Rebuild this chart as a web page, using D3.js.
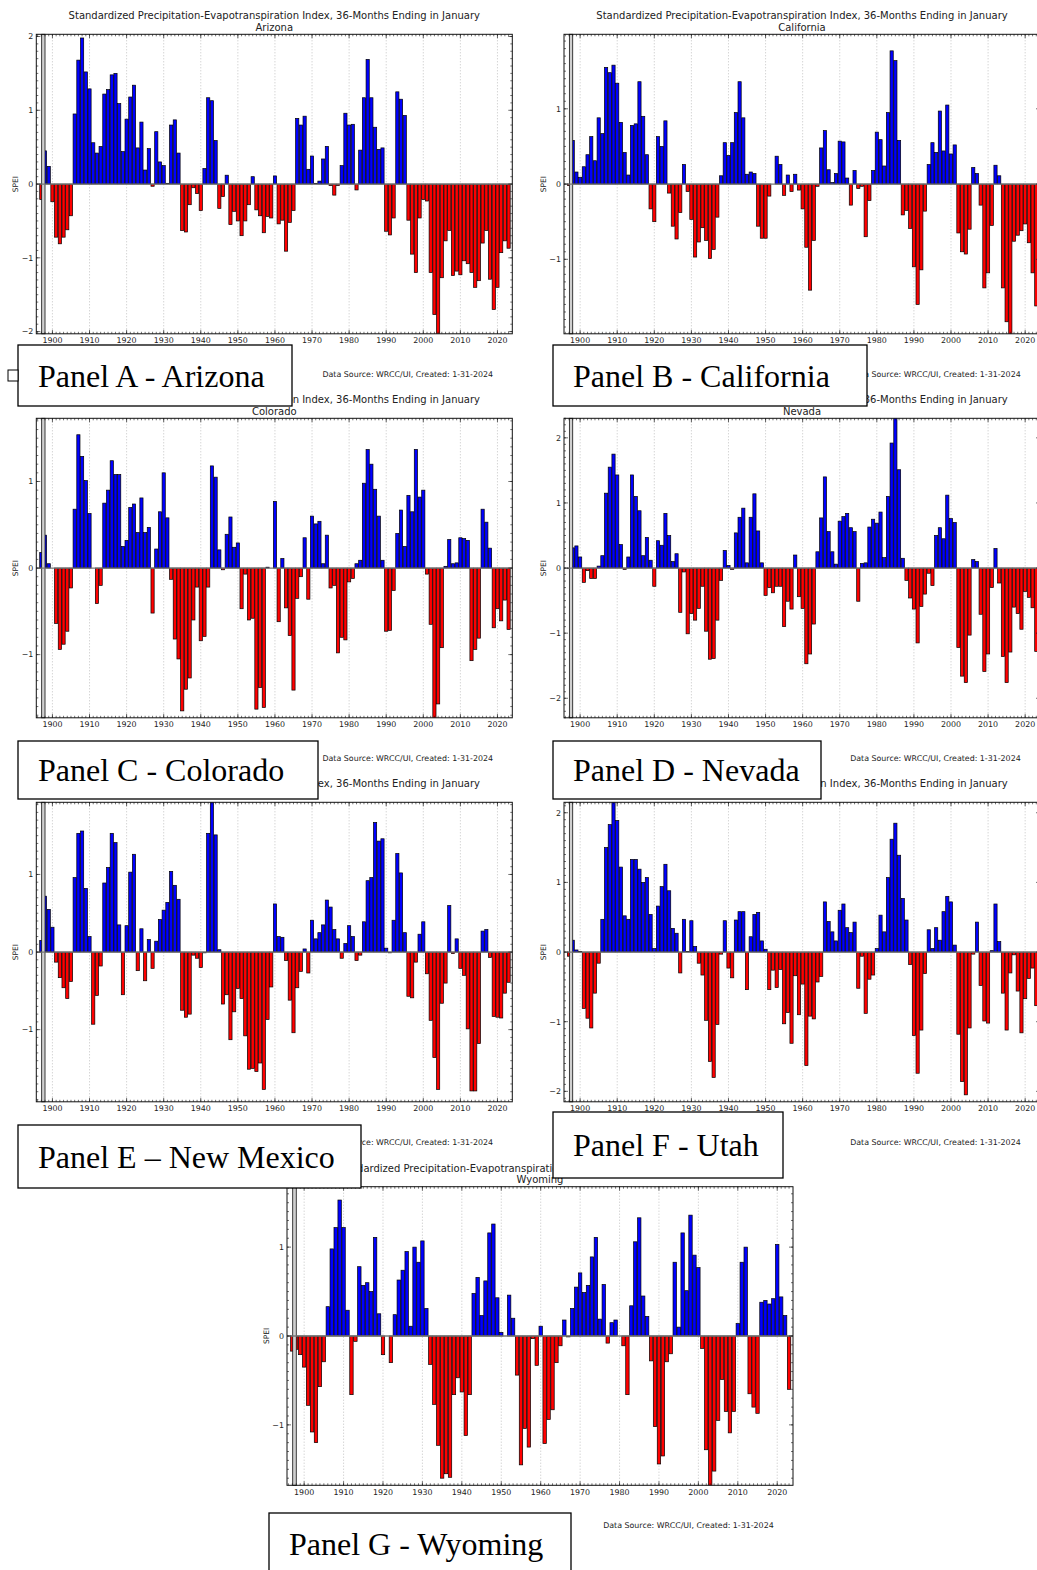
<!DOCTYPE html>
<html>
<head>
<meta charset="utf-8">
<script src="https://cdn.jsdelivr.net/npm/d3@7"></script>
<style>
  body { margin: 0; background: #fff; }
  svg { display: block; }
</style>
</head>
<body>
<svg id="chart" width="1037" height="1570"></svg>
<script>
// SPEI, 36 months ending in January, one value per year 1897..2023
const years = d3.range(1897, 2024);
const xTicks = [1900, 1910, 1920, 1930, 1940, 1950, 1960, 1970, 1980, 1990, 2000, 2010, 2020];

const arizona = [-0.21, 0.45, 0.24,
  -0.24, -0.72, -0.81, -0.72, -0.62, -0.43, 0.95, 1.68, 1.98, 1.52,
  1.29, 0.56, 0.42, 0.51, 1.22, 1.28, 1.48, 1.50, 1.09, 0.44,
  0.88, 1.18, 1.34, 0.49, 0.84, 0.19, 0.48, -0.03, 0.71, 0.30,
  0.25, 0.01, 0.80, 0.87, 0.42, -0.63, -0.65, -0.28, -0.05, -0.13,
  -0.36, 0.21, 1.17, 1.13, 0.59, -0.33, -0.17, 0.12, -0.55, -0.37,
  -0.50, -0.70, -0.50, -0.28, 0.10, -0.35, -0.43, -0.66, -0.44, -0.46,
  0.11, -0.54, -0.49, -0.91, -0.52, -0.36, 0.89, 0.80, 0.92, 0.20,
  0.38, 0.01, 0.04, 0.34, 0.51, -0.02, -0.15, -0.02, 0.25, 0.96,
  0.80, 0.81, -0.08, 0.46, 1.17, 1.69, 1.17, 0.77, 0.47, 0.49,
  -0.64, -0.69, -0.46, 1.25, 1.15, 0.93, -0.49, -0.95, -1.20, -0.46,
  -0.21, -0.23, -1.20, -1.77, -2.10, -1.27, -0.77, -0.63, -1.24, -1.18,
  -1.23, -1.04, -1.08, -1.20, -1.40, -1.31, -0.80, -0.63, -1.29, -1.70,
  -1.40, -0.93, -0.77, -0.87];

const california = [-0.02, 0.58, 0.16,
  0.09, 0.23, 0.39, 0.63, 0.31, 0.88, 0.67, 1.55, 1.48, 1.58,
  1.34, 0.82, 0.42, 0.12, 0.78, 0.80, 1.36, 0.90, 0.39, -0.33,
  -0.50, 0.63, 0.50, 0.84, -0.12, -0.56, -0.73, -0.38, 0.26, -0.10,
  -0.47, -0.97, -0.77, -0.58, -0.75, -0.99, -0.87, -0.44, 0.11, 0.55,
  0.38, 0.55, 0.95, 1.36, 0.88, 0.13, 0.16, 0.14, -0.56, -0.72,
  -0.72, -0.16, 0.00, 0.37, 0.26, -0.15, 0.12, -0.10, 0.13, -0.08,
  -0.33, -0.84, -1.41, -0.75, -0.03, 0.48, 0.71, 0.19, 0.02, 0.14,
  0.57, 0.56, 0.08, -0.28, 0.18, -0.06, -0.03, -0.70, -0.22, 0.18,
  0.69, 0.59, 0.24, 0.95, 1.77, 1.64, 0.58, -0.41, -0.35, -0.59,
  -1.10, -1.60, -1.14, -0.36, 0.26, 0.55, 0.42, 0.97, 0.44, 1.05,
  0.40, 0.52, -0.65, -0.90, -0.93, -0.60, 0.22, 0.14, -0.28, -1.38,
  -1.18, -0.55, 0.25, 0.11, -1.38, -1.83, -2.05, -0.76, -0.68, -0.62,
  -0.53, -0.78, -1.18, -1.62];

const colorado = [0.18, 0.38, 0.05,
  0.00, -0.64, -0.94, -0.88, -0.73, -0.23, 0.68, 1.54, 1.29, 1.01,
  0.63, 0.00, -0.41, -0.20, 0.75, 0.90, 1.24, 1.08, 1.08, 0.25,
  0.32, 0.70, 0.74, 0.41, 0.81, 0.41, 0.47, -0.52, 0.22, 0.65,
  1.10, 0.58, -0.13, -0.82, -1.05, -1.65, -1.40, -1.27, -0.60, -0.22,
  -0.84, -0.79, -0.22, 1.18, 1.05, 0.21, -0.02, 0.39, 0.59, 0.24,
  0.29, -0.47, -0.07, -0.60, -0.58, -1.63, -1.38, -1.61, 0.01, 0.00,
  0.77, -0.62, 0.11, -0.46, -0.78, -1.41, -0.35, -0.10, 0.35, -0.36,
  0.60, 0.51, 0.54, 0.05, 0.38, -0.23, -0.20, -0.98, -0.80, -0.83,
  -0.16, -0.12, 0.05, 0.09, 0.98, 1.37, 1.20, 0.91, 0.60, 0.09,
  -0.73, -0.72, -0.26, 0.40, 0.67, 0.25, 0.84, 0.65, 1.37, 0.82,
  0.90, -0.07, -0.65, -1.76, -1.57, -0.92, 0.02, 0.33, 0.05, 0.06,
  0.35, 0.34, 0.32, -1.07, -0.94, -0.81, 0.68, 0.53, 0.23, -0.69,
  -0.47, -0.61, -0.37, -0.71];

const nevada = [-0.01, 0.31, 0.34,
  0.17, -0.22, -0.04, -0.16, -0.16, 0.03, 0.19, 1.15, 1.55, 1.75,
  1.43, 0.36, -0.02, 0.17, 1.43, 1.10, 0.88, 0.19, 0.47, 0.12,
  -0.28, 0.42, 0.35, 0.84, 0.50, 0.10, 0.22, -0.68, -0.06, -1.01,
  -0.70, -0.80, -0.62, -0.28, -0.97, -1.40, -1.39, -0.80, -0.19, 0.27,
  0.04, -0.02, 0.54, 0.78, 0.92, 0.08, 0.78, 1.14, 0.57, 0.08,
  -0.42, -0.30, -0.38, -0.28, -0.28, -0.90, -0.51, -0.63, 0.20, -0.44,
  -0.62, -1.47, -1.32, -0.86, 0.25, 0.77, 1.40, 0.56, 0.25, 0.06,
  0.72, 0.79, 0.84, 0.62, 0.56, -0.51, 0.07, 0.08, 0.63, 0.75,
  0.69, 0.86, 0.16, 1.10, 1.92, 2.35, 1.51, 0.15, -0.19, -0.46,
  -0.63, -1.15, -0.59, -0.40, -0.08, -0.27, 0.50, 0.62, 0.45, 1.12,
  0.76, 0.70, -1.22, -1.66, -1.76, -1.03, 0.13, 0.10, -0.71, -1.59,
  -1.32, -0.30, 0.30, -0.23, -1.36, -1.76, -1.29, -0.60, -0.70, -0.94,
  -0.36, -0.45, -0.61, -1.28];

const newMexico = [0.15, 0.72, 0.55,
  0.32, -0.13, -0.33, -0.46, -0.60, -0.38, 0.96, 1.53, 1.56, 0.82,
  0.20, -0.93, -0.56, -0.18, 0.89, 1.09, 1.53, 1.41, 0.35, -0.55,
  0.34, 1.03, 1.26, -0.24, 0.30, -0.37, 0.16, -0.21, 0.14, 0.42,
  0.54, 0.64, 1.04, 0.86, 0.68, -0.75, -0.84, -0.80, -0.04, -0.08,
  -0.20, -0.01, 1.53, 1.95, 1.51, 0.03, -0.67, -0.55, -1.13, -0.77,
  -0.47, -0.60, -1.08, -1.51, -1.50, -1.54, -1.43, -1.77, -0.87, -0.45,
  0.62, 0.20, 0.19, -0.11, -0.62, -1.04, -0.46, -0.25, 0.04, -0.27,
  0.41, 0.17, 0.25, 0.35, 0.67, 0.58, 0.29, 0.17, -0.08, 0.11,
  0.34, 0.20, -0.11, -0.04, 0.39, 0.92, 0.96, 1.67, 1.43, 1.46,
  0.05, -0.01, 0.41, 1.27, 1.02, 0.25, -0.57, -0.59, -0.13, 0.23,
  0.39, -0.28, -0.88, -1.36, -1.77, -0.66, -0.40, 0.60, -0.02, 0.17,
  -0.21, -0.30, -0.99, -1.79, -1.79, -1.18, 0.27, 0.29, -0.07, -0.83,
  -0.84, -0.85, -0.53, -0.39];

const utah = [-0.06, 0.17, 0.03,
  0.01, -0.81, -0.95, -1.09, -0.59, -0.16, 0.47, 1.50, 1.83, 2.20,
  1.89, 1.22, 0.52, 0.47, 1.33, 1.33, 1.19, 1.00, 1.07, 0.54,
  0.05, 0.66, 0.94, 1.26, 0.88, 0.34, 0.27, -0.30, 0.47, 0.01,
  0.45, 0.08, -0.16, -0.33, -0.98, -1.57, -1.80, -1.04, -0.03, 0.45,
  -0.23, -0.37, 0.46, 0.58, 0.58, -0.54, 0.22, 0.54, 0.57, 0.16,
  0.04, -0.54, -0.26, -0.51, -0.25, -1.03, -0.87, -1.31, -0.34, -0.90,
  -0.46, -1.63, -0.92, -0.96, -0.43, -0.35, 0.72, 0.44, 0.29, 0.16,
  0.60, 0.69, 0.35, 0.28, 0.43, -0.52, -0.06, -0.88, -0.39, -0.33,
  0.05, 0.53, 0.29, 1.07, 1.62, 1.85, 1.39, 0.77, 0.46, -0.18,
  -1.20, -1.74, -1.12, -0.31, 0.32, 0.05, 0.35, 0.17, 0.58, 0.80,
  0.72, 0.10, -1.18, -1.86, -2.05, -1.09, -0.03, 0.43, -0.48, -0.99,
  -1.02, 0.02, 0.69, 0.15, -0.59, -1.12, -0.30, -0.04, -0.56, -1.16,
  -0.67, -0.38, -0.23, -0.77];

const wyoming = [-0.17, -0.15, -0.21,
  -0.35, -0.78, -1.08, -1.20, -0.57, -0.29, 0.33, 0.98, 1.22, 1.53,
  1.22, 0.29, -0.66, -0.06, 0.78, 0.57, 0.60, 0.50, 1.11, 0.25,
  -0.21, 0.00, -0.30, 0.24, 0.63, 0.74, 0.95, 0.11, 1.00, 0.83,
  1.07, 0.31, -0.32, -0.77, -1.23, -1.60, -1.55, -1.59, -0.66, -0.47,
  -0.63, -1.12, -0.66, 0.48, 0.66, 0.23, 0.62, 1.16, 1.26, 0.43,
  0.04, 0.00, 0.46, 0.20, -0.44, -1.45, -1.04, -1.25, -0.03, -0.33,
  0.11, -1.21, -0.94, -0.83, -0.30, -0.11, 0.18, -0.01, 0.31, 0.55,
  0.71, 0.49, 0.57, 0.89, 1.11, 0.19, 0.58, -0.08, 0.15, 0.18,
  0.00, -0.11, -0.66, 0.34, 1.06, 1.33, 0.45, 0.22, -0.28, -1.02,
  -1.44, -1.35, -0.29, -0.20, 0.83, 0.10, 1.16, 0.51, 1.36, 0.91,
  0.77, -0.14, -1.28, -1.70, -1.52, -0.95, -0.49, -0.85, -1.09, -0.85,
  0.14, 0.83, 1.00, -0.65, -0.80, -0.87, 0.38, 0.40, 0.36, 0.42,
  1.03, 0.44, 0.23, -0.60];

const titleText = "Standardized Precipitation-Evapotranspiration Index, 36-Months Ending in January";
const sourceText = "Data Source: WRCC/UI, Created: 1-31-2024";

// where each pasted chart sits on the page
const panels = [
  { id: "A", name: "Arizona",    values: arizona,    left: 36.3, top: 34.3,   w: 476, h: 299.5, ylim: 2.03 },
  { id: "B", name: "California", values: california, left: 564,  top: 34.3,   w: 476, h: 299.5, ylim: 1.99 },
  { id: "C", name: "Colorado",   values: colorado,   left: 36.3, top: 418.3,  w: 476, h: 299.5, ylim: 1.73 },
  { id: "D", name: "Nevada",     values: nevada,     left: 564,  top: 418.3,  w: 476, h: 299.5, ylim: 2.30 },
  { id: "E", name: "New Mexico", values: newMexico,  left: 36.3, top: 802.3,  w: 476, h: 299.5, ylim: 1.93 },
  { id: "F", name: "Utah",       values: utah,       left: 564,  top: 802.3,  w: 476, h: 299.5, ylim: 2.15 },
  { id: "G", name: "Wyoming",    values: wyoming,    left: 287,  top: 1186.7, w: 506, h: 298.6, ylim: 1.68 }
];

const labels = [
  { text: "Panel A - Arizona",    x: 18,  y: 345,  w: 274, h: 61 },
  { text: "Panel B - California", x: 553, y: 345,  w: 314, h: 61 },
  { text: "Panel C - Colorado",   x: 18,  y: 741,  w: 300, h: 58 },
  { text: "Panel D - Nevada",     x: 553, y: 741,  w: 268, h: 58 },
  { text: "Panel E \u2013 New Mexico", x: 18, y: 1125, w: 343, h: 63 },
  { text: "Panel F - Utah",       x: 553, y: 1112, w: 230, h: 66 },
  { text: "Panel G - Wyoming",    x: 269, y: 1513, w: 302, h: 62 }
];

const svg = d3.select("#chart");
const font = "DejaVu Sans";
const xDomain = [1895.65, 2024];
const barW = 0.86;
const smallFont = 7.9;
const fmt = v => (v < 0 ? "\u2212" : "") + Math.abs(v);

panels.forEach(drawPanel);

function drawPanel(p) {
  const g = svg.append("g");
  const x = d3.scaleLinear().domain(xDomain).range([p.left, p.left + p.w]);
  const y = d3.scaleLinear().domain([-p.ylim, p.ylim]).range([p.top + p.h, p.top]);
  const bottom = p.top + p.h, right = p.left + p.w;

  svg.append("clipPath").attr("id", "clip" + p.id)
    .append("rect").attr("x", p.left).attr("y", p.top).attr("width", p.w).attr("height", p.h);

  // title
  g.append("text").attr("x", (p.left + right) / 2).attr("y", p.top - 15)
    .attr("text-anchor", "middle").attr("font-family", font).attr("font-size", 10)
    .attr("fill", "#222").text(titleText);
  g.append("text").attr("x", (p.left + right) / 2).attr("y", p.top - 3.5)
    .attr("text-anchor", "middle").attr("font-family", font).attr("font-size", 10)
    .attr("fill", "#222").text(p.name);

  // vertical dotted grid
  g.append("g").selectAll("line").data(xTicks).join("line")
    .attr("x1", d => x(d)).attr("x2", d => x(d))
    .attr("y1", p.top).attr("y2", bottom)
    .attr("stroke", "#aaa").attr("stroke-width", 0.7).attr("stroke-dasharray", "1,2");

  // bars
  const rows = years.map((yr, i) => ({ yr, v: p.values[i] }));
  g.append("g").attr("clip-path", `url(#clip${p.id})`)
    .selectAll("rect").data(rows).join("rect")
    .attr("x", d => x(d.yr - barW / 2))
    .attr("width", d => x(d.yr + barW / 2) - x(d.yr - barW / 2))
    .attr("y", d => y(Math.max(0, d.v)))
    .attr("height", d => Math.abs(y(d.v) - y(0)))
    .attr("fill", d => d.v >= 0 ? "#0000ff" : "#ff0000")
    .attr("stroke", "#000").attr("stroke-width", 0.7);

  // the grey full-height marker near the start of the record
  g.append("rect")
    .attr("x", x(1897.1)).attr("width", x(1898.0) - x(1897.1))
    .attr("y", p.top).attr("height", p.h)
    .attr("fill", "#cfcfcf").attr("stroke", "#111").attr("stroke-width", 0.8);

  // zero line
  g.append("line").attr("x1", p.left).attr("x2", right)
    .attr("y1", y(0)).attr("y2", y(0))
    .attr("stroke", "#777").attr("stroke-width", 1.3);

  // frame
  g.append("rect").attr("x", p.left).attr("y", p.top).attr("width", p.w).attr("height", p.h)
    .attr("fill", "none").attr("stroke", "#111").attr("stroke-width", 1);

  // ticks (inward, all four sides)
  const tk = g.append("g").attr("stroke", "#111").attr("stroke-width", 0.6);
  const minorX = d3.range(1896, 2024);
  const yTicks = d3.range(Math.ceil(-p.ylim), Math.floor(p.ylim) + 1);
  const minorY = d3.range(Math.ceil(-p.ylim * 10), Math.floor(p.ylim * 10) + 1).map(d => d / 10);
  [[minorX, 2], [xTicks, 4]].forEach(([arr, len]) => {
    tk.append("g").selectAll("line").data(arr).join("line")
      .attr("x1", d => x(d)).attr("x2", d => x(d)).attr("y1", bottom).attr("y2", bottom - len);
    tk.append("g").selectAll("line").data(arr).join("line")
      .attr("x1", d => x(d)).attr("x2", d => x(d)).attr("y1", p.top).attr("y2", p.top + len);
  });
  [[minorY, 2], [yTicks, 4]].forEach(([arr, len]) => {
    tk.append("g").selectAll("line").data(arr).join("line")
      .attr("y1", d => y(d)).attr("y2", d => y(d)).attr("x1", p.left).attr("x2", p.left + len);
    tk.append("g").selectAll("line").data(arr).join("line")
      .attr("y1", d => y(d)).attr("y2", d => y(d)).attr("x1", right).attr("x2", right - len);
  });

  // tick labels
  g.append("g").selectAll("text").data(xTicks).join("text")
    .attr("x", d => x(d)).attr("y", bottom + 9.5)
    .attr("text-anchor", "middle").attr("font-family", font).attr("font-size", smallFont)
    .attr("fill", "#222").text(d => d);
  g.append("g").selectAll("text").data(yTicks).join("text")
    .attr("x", p.left - 3).attr("y", d => y(d) + 2.8)
    .attr("text-anchor", "end").attr("font-family", font).attr("font-size", smallFont)
    .attr("fill", "#222").text(fmt);

  g.append("text").attr("transform", `translate(${p.left - 18},${y(0)}) rotate(-90)`)
    .attr("text-anchor", "middle").attr("font-family", font).attr("font-size", 7.5)
    .attr("fill", "#222").text("SPEI");

  g.append("text").attr("x", right - 19.3).attr("y", bottom + 43)
    .attr("text-anchor", "end").attr("font-family", font).attr("font-size", smallFont)
    .attr("fill", "#222").text(sourceText);
}

// panel name boxes pasted on top
const lb = svg.append("g");
lb.selectAll("rect").data(labels).join("rect")
  .attr("x", d => d.x).attr("y", d => d.y).attr("width", d => d.w).attr("height", d => d.h)
  .attr("fill", "#fff").attr("stroke", "#000").attr("stroke-width", 1.3);
lb.selectAll("text").data(labels).join("text")
  .attr("x", d => d.x + 20).attr("y", d => d.y + d.h / 2 + 11)
  .attr("font-family", "Liberation Serif").attr("font-size", 32)
  .attr("fill", "#000").text(d => d.text);

// stray little square next to panel A's box
svg.append("rect").attr("x", 8).attr("y", 370).attr("width", 10).attr("height", 11)
  .attr("fill", "#fff").attr("stroke", "#000").attr("stroke-width", 1);
</script>
</body>
</html>
